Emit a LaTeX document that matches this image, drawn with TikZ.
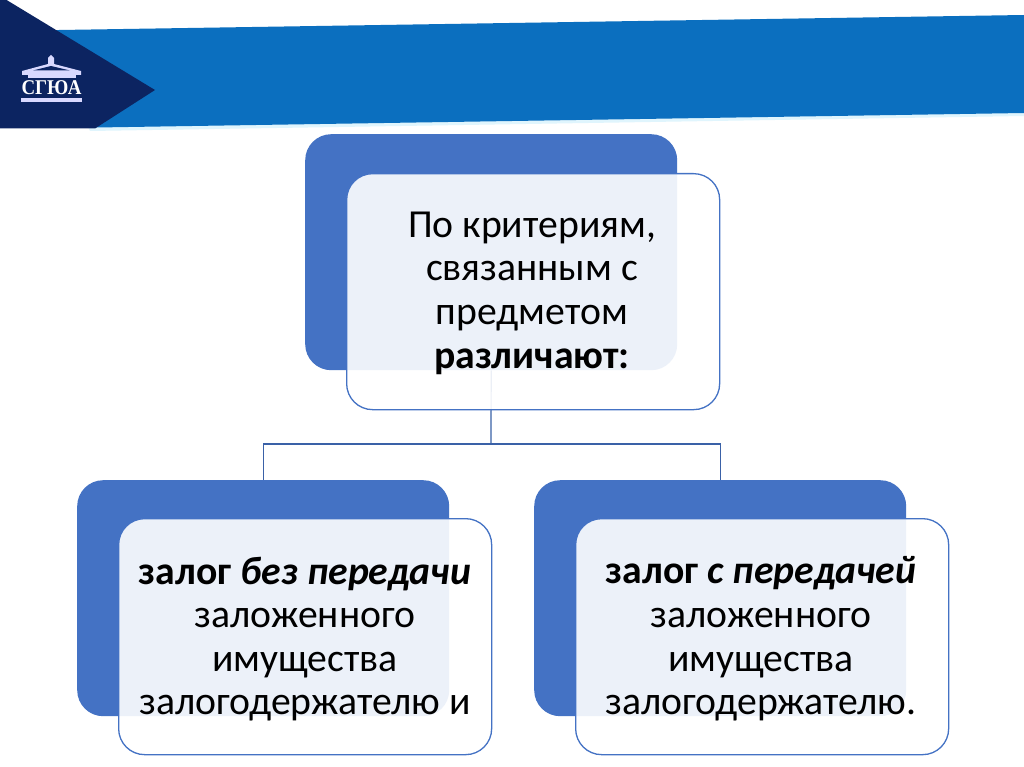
\documentclass[tikz,border=0pt]{standalone}
\usepackage{fontspec}
\setmainfont{Carlito}
\newfontfamily\logofont{Liberation Serif}
\definecolor{band}{HTML}{0B6FBF}
\definecolor{navy}{HTML}{0C2461}
\definecolor{accentb}{HTML}{4472C4}
\tikzset{
  backbox/.style={fill=accentb,draw=none,rounded corners=26,minimum width=372,minimum height=236,inner sep=0,anchor=north west},
  frontbox/.style={fill=white,fill opacity=0.9,draw=accentb,line width=1.3,rounded corners=26,minimum width=373,minimum height=236,inner sep=0,anchor=north west},
  labeltext/.style={align=center,font=\fontsize{39.7}{43.6}\selectfont,text=black,inner sep=0},
  link/.style={draw=accentb!85!black,line width=1.2},
  logoshape/.style={fill=white!85!blue,draw=none}
}
\begin{document}
\begin{tikzpicture}[x=1pt,y=-1pt]
\useasboundingbox (0,0) rectangle (1024,767);
\fill[white] (0,0) rectangle (1024,767);
% header
\fill[cyan!12] (40,31) -- (1024,16) -- (1024,116) -- (90,131) -- cycle;
\fill[band] (40,30.3) -- (1024,15) -- (1024,113) -- (90,127.6) -- cycle;
\fill[navy] (0,-4) -- (155,90) -- (95,128.5) -- (0,128.5) -- cycle;
% logo
\fill[logoshape] (22,71) -- (48,64) -- (48,58) -- (51,55) -- (54,58) -- (54,64) -- (81,71) -- (81,75) -- (22,75) -- cycle;
\fill[navy] (33,70.5) -- (51,66) -- (70,70.5) -- cycle;
\fill[logoshape] (28,75.5) rectangle (76,78);
\fill[logoshape] (21,98) -- (82,98) -- (82,102) -- (21,102) -- cycle;
\node[text=white,font=\logofont\bfseries\fontsize{21}{21}\selectfont,inner sep=0,xscale=0.9] (logo) at (51.5,88) {СГЮА};
% boxes behind
\node[backbox] (tb) at (305,134) {};
\node[backbox] (lb) at (77,480) {};
\node[backbox] (rb) at (534,480) {};
% connectors
\coordinate (junction) at (491,444);
\draw[link] (tb.south) -- (junction);
\draw[link] (junction) -| (lb.north);
\draw[link] (junction) -| (rb.north);
% front boxes
\node[frontbox] (tf) at (346,173) {};
\node[frontbox] (lf) at (118,518) {};
\node[frontbox] (rf) at (575,518) {};
% text
\node[labeltext] (tt) at (532,293) {По критериям,\\связанным с\\предметом\\\textbf{различают:}};
\node[labeltext] (lt) at (305,639) {\textbf{залог \textit{без передачи}}\\заложенного\\имущества\\залогодержателю и};
\node[labeltext] (rt) at (761,639) {\textbf{залог \textit{с передачей}}\\заложенного\\имущества\\залогодержателю.};
\end{tikzpicture}
\end{document}
